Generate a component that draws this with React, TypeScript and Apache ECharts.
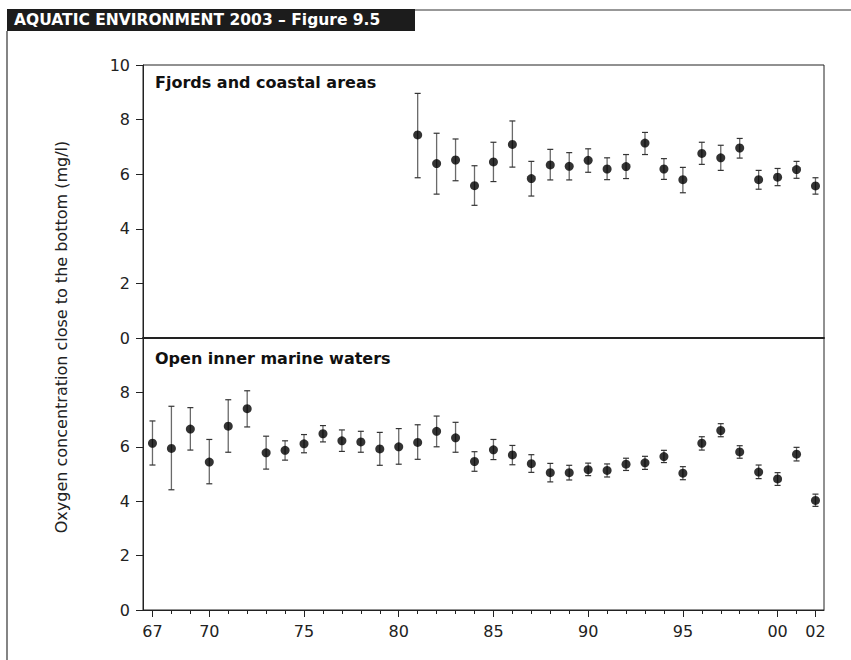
import React, { useEffect, useRef } from "react";
import * as echarts from "echarts";

// ---------- data ----------
const fjordYears = [1981, 1982, 1983, 1984, 1985, 1986, 1987, 1988, 1989, 1990, 1991, 1992, 1993, 1994, 1995, 1996, 1997, 1998, 1999, 2000, 2001, 2002];
const fjordMean = [7.44, 6.39, 6.52, 5.58, 6.45, 7.09, 5.84, 6.34, 6.29, 6.51, 6.19, 6.28, 7.14, 6.19, 5.8, 6.76, 6.6, 6.96, 5.8, 5.89, 6.17, 5.57];
const fjordLow = [5.87, 5.27, 5.76, 4.86, 5.73, 6.26, 5.2, 5.79, 5.79, 6.07, 5.8, 5.84, 6.72, 5.81, 5.32, 6.36, 6.14, 6.59, 5.45, 5.58, 5.85, 5.27];
const fjordHigh = [8.96, 7.5, 7.29, 6.31, 7.17, 7.95, 6.47, 6.91, 6.79, 6.93, 6.6, 6.72, 7.53, 6.57, 6.25, 7.17, 7.06, 7.31, 6.14, 6.21, 6.47, 5.87];

const openYears = [1967, 1968, 1969, 1970, 1971, 1972, 1973, 1974, 1975, 1976, 1977, 1978, 1979, 1980, 1981, 1982, 1983, 1984, 1985, 1986, 1987, 1988, 1989, 1990, 1991, 1992, 1993, 1994, 1995, 1996, 1997, 1998, 1999, 2000, 2001, 2002];
const openMean = [6.13, 5.94, 6.65, 5.44, 6.76, 7.4, 5.78, 5.87, 6.11, 6.48, 6.22, 6.18, 5.92, 6.0, 6.16, 6.57, 6.33, 5.46, 5.89, 5.7, 5.38, 5.05, 5.05, 5.16, 5.13, 5.36, 5.41, 5.64, 5.03, 6.13, 6.6, 5.81, 5.07, 4.82, 5.73, 4.03];
const openLow = [5.33, 4.42, 5.88, 4.64, 5.8, 6.73, 5.18, 5.51, 5.78, 6.18, 5.83, 5.8, 5.32, 5.36, 5.54, 6.0, 5.8, 5.1, 5.53, 5.34, 5.06, 4.71, 4.78, 4.94, 4.89, 5.13, 5.17, 5.42, 4.79, 5.88, 6.37, 5.58, 4.83, 4.58, 5.48, 3.81];
const openHigh = [6.95, 7.49, 7.44, 6.27, 7.73, 8.06, 6.39, 6.22, 6.45, 6.78, 6.62, 6.57, 6.53, 6.67, 6.81, 7.13, 6.9, 5.82, 6.27, 6.05, 5.71, 5.39, 5.32, 5.4, 5.37, 5.58, 5.65, 5.87, 5.27, 6.37, 6.85, 6.04, 5.33, 5.05, 5.98, 4.26];

const majorYears = [1967, 1970, 1975, 1980, 1985, 1990, 1995, 2000, 2002];
const yTicksTop = [0, 2, 4, 6, 8, 10];
const yTicksBottom = [0, 2, 4, 6, 8];

const headerText = "AQUATIC ENVIRONMENT 2003 – Figure 9.5";
const yTitle = "Oxygen concentration close to the bottom (mg/l)";
const panelTop = "Fjords and coastal areas";
const panelBottom = "Open inner marine waters";

const FONT = "'DejaVu Sans', 'Liberation Sans', sans-serif";
const INK = "#222";

export default function App() {
  const ref = useRef<HTMLDivElement>(null);

  useEffect(() => {
    const chart = echarts.init(ref.current!, null, { renderer: "svg" });

    const renderErr = (_params: any, api: any) => {
      const x = api.value(0);
      const lo = api.coord([x, api.value(1)]);
      const hi = api.coord([x, api.value(2)]);
      const w = 3;
      return {
        type: "group",
        children: [
          { type: "line", shape: { x1: lo[0], y1: lo[1], x2: hi[0], y2: hi[1] }, style: { stroke: "#6a6a6a", lineWidth: 1.3 } },
          { type: "line", shape: { x1: hi[0] - w, y1: hi[1], x2: hi[0] + w, y2: hi[1] }, style: { stroke: "#333", lineWidth: 1.2 } },
          { type: "line", shape: { x1: lo[0] - w, y1: lo[1], x2: lo[0] + w, y2: lo[1] }, style: { stroke: "#333", lineWidth: 1.2 } },
        ],
      };
    };

    const xBase = { type: "value", min: 1966.5, max: 2002.45, splitLine: { show: false } };
    const yBase = {
      type: "value",
      min: 0,
      max: 10,
      interval: 2,
      splitLine: { show: false },
      axisLine: { show: true, lineStyle: { color: INK, width: 1 } },
      axisTick: { show: true, length: 7, lineStyle: { color: INK } },
    };

    chart.setOption({
      animation: false,
      backgroundColor: "#fff",
      grid: [
        { left: 143, top: 65, width: 681, height: 273, show: true, borderColor: INK, borderWidth: 1, backgroundColor: "transparent" },
        { left: 143, top: 338, width: 681, height: 272, show: true, borderColor: INK, borderWidth: 1, backgroundColor: "transparent" },
      ],
      xAxis: [
        {
          ...xBase,
          gridIndex: 0,
          position: "bottom",
          axisLine: { show: true, lineStyle: { color: INK, width: 2 } },
          axisTick: { show: false },
          axisLabel: { show: false },
        },
        {
          ...xBase,
          gridIndex: 1,
          position: "bottom",
          axisLine: { show: true, lineStyle: { color: INK, width: 1 } },
          axisTick: { show: true, length: 4, customValues: openYears, lineStyle: { color: INK } },
          axisLabel: { show: false },
        },
        {
          ...xBase,
          gridIndex: 1,
          position: "bottom",
          axisLine: { show: false },
          axisTick: { show: true, length: 7, customValues: majorYears, lineStyle: { color: INK } },
          axisLabel: {
            show: true,
            customValues: majorYears,
            margin: 13,
            fontFamily: FONT,
            fontSize: 16,
            color: INK,
            formatter: (v: number) => String(Math.round(v) % 100).padStart(2, "0"),
          },
        },
      ],
      yAxis: [
        {
          ...yBase,
          gridIndex: 0,
          axisLabel: { margin: 13, fontFamily: FONT, fontSize: 16, color: INK, customValues: yTicksTop },
        },
        {
          ...yBase,
          gridIndex: 1,
          axisLabel: { margin: 13, fontFamily: FONT, fontSize: 16, color: INK, customValues: yTicksBottom },
        },
      ],
      series: [
        {
          type: "custom",
          xAxisIndex: 0,
          yAxisIndex: 0,
          renderItem: renderErr,
          encode: { x: 0, y: [1, 2] },
          data: fjordYears.map((yr, i) => [yr, fjordLow[i], fjordHigh[i]]),
          z: 2,
        },
        {
          type: "scatter",
          xAxisIndex: 0,
          yAxisIndex: 0,
          symbol: "circle",
          symbolSize: 9,
          itemStyle: { color: "#000" },
          data: fjordYears.map((yr, i) => [yr, fjordMean[i]]),
          z: 3,
        },
        {
          type: "custom",
          xAxisIndex: 1,
          yAxisIndex: 1,
          renderItem: renderErr,
          encode: { x: 0, y: [1, 2] },
          data: openYears.map((yr, i) => [yr, openLow[i], openHigh[i]]),
          z: 2,
        },
        {
          type: "scatter",
          xAxisIndex: 1,
          yAxisIndex: 1,
          symbol: "circle",
          symbolSize: 9,
          itemStyle: { color: "#000" },
          data: openYears.map((yr, i) => [yr, openMean[i]]),
          z: 3,
        },
      ],
      graphic: [
        { type: "rect", shape: { x: 7, y: 9, width: 408, height: 22 }, style: { fill: "#1c1c1c" } },
        {
          type: "text",
          x: 14,
          y: 20,
          style: { text: headerText, fill: "#fff", font: `bold 15.5px ${FONT}`, verticalAlign: "middle", align: "left" },
        },
        { type: "line", shape: { x1: 415, y1: 10, x2: 851, y2: 10 }, style: { stroke: "#333", lineWidth: 1.2 } },
        { type: "line", shape: { x1: 7, y1: 31, x2: 7, y2: 660 }, style: { stroke: "#333", lineWidth: 1.2 } },
        {
          type: "text",
          x: 61,
          y: 337,
          rotation: Math.PI / 2,
          style: { text: yTitle, fill: INK, font: `16px ${FONT}`, align: "center", verticalAlign: "middle" },
        },
        {
          type: "text",
          x: 155,
          y: 74,
          style: { text: panelTop, fill: "#111", font: `bold 16px ${FONT}`, align: "left", verticalAlign: "top" },
        },
        {
          type: "text",
          x: 155,
          y: 350,
          style: { text: panelBottom, fill: "#111", font: `bold 16px ${FONT}`, align: "left", verticalAlign: "top" },
        },
      ],
    });

    return () => chart.dispose();
  }, []);

  return (
    <div
      ref={ref}
      style={{ position: "fixed", left: 0, top: 0, width: 851, height: 660, background: "#fff" }}
    />
  );
}
